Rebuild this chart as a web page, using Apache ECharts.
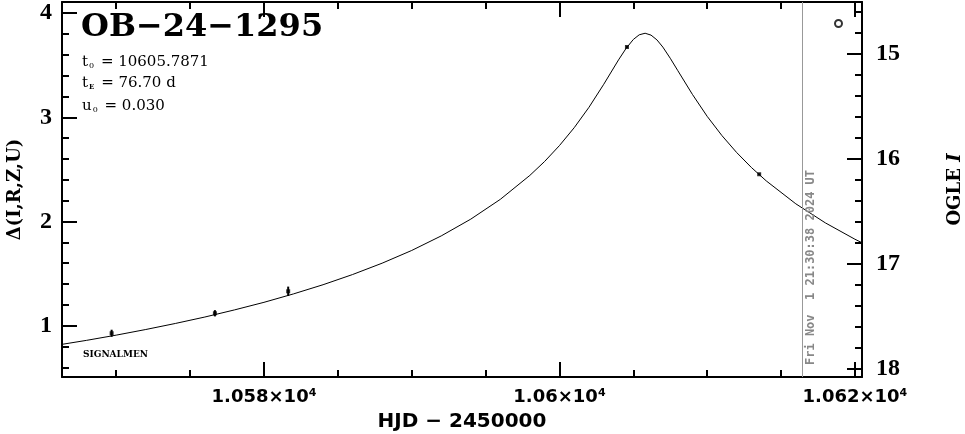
<!DOCTYPE html>
<html><head><meta charset="utf-8">
<script src="https://cdn.jsdelivr.net/npm/echarts@6/dist/echarts.min.js"></script>
<style>html,body{margin:0;padding:0;background:#fff}#c{width:965px;height:434px}</style>
</head><body><div id="c"></div>
<script>
// ---- data ----
const eventName = 'OB−24−1295';
const paramT0 = '10605.7871';
const paramTE = '76.70 d';
const paramU0 = '0.030';
const footerText = 'SIGNALMEN';

const modelT = [10566, 10568, 10570, 10572, 10574, 10576, 10578, 10580, 10582, 10584, 10586, 10588, 10590, 10592, 10594, 10596, 10598, 10599, 10600, 10601, 10602, 10603, 10604, 10604.5, 10605, 10605.4, 10605.8, 10606.2, 10606.6, 10607, 10607.5, 10608, 10609, 10610, 10611, 10612, 10613, 10614, 10616, 10618, 10620, 10621];
const modelD = [0.813, 0.859, 0.909, 0.963, 1.021, 1.083, 1.151, 1.224, 1.305, 1.393, 1.491, 1.600, 1.722, 1.862, 2.023, 2.213, 2.443, 2.577, 2.729, 2.901, 3.097, 3.318, 3.552, 3.660, 3.748, 3.793, 3.808, 3.790, 3.744, 3.675, 3.568, 3.452, 3.221, 3.010, 2.825, 2.662, 2.518, 2.390, 2.170, 1.987, 1.830, 1.760];

const pointT = [10569.69, 10576.68, 10581.64, 10604.57, 10613.52];
const pointD = [0.927, 1.119, 1.330, 3.676, 2.454];
const pointErr = [0.034, 0.030, 0.045, 0.008, 0.008];

const xMajorTicks = [10580, 10600, 10620];
const xTickLabels = ['1.058×10⁴', '1.06×10⁴', '1.062×10⁴'];
const xMinorTicks = [10570, 10575, 10585, 10590, 10595, 10605, 10610, 10615];
const leftMajorTicks = [1, 2, 3, 4];
const leftMinorTicks = [0.6, 0.8, 1.2, 1.4, 1.6, 1.8, 2.2, 2.4, 2.6, 2.8, 3.2, 3.4, 3.6, 3.8];
const rightMajorTicks = [15, 16, 17, 18];
const rightMinorTicks = [14.6, 14.8, 15.2, 15.4, 15.6, 15.8, 16.2, 16.4, 16.6, 16.8, 17.2, 17.4, 17.6, 17.8];

const stampHJD = 10616.43;
const stampText = 'Fri Nov  1 21:30:38 2024 UT';

// ---- chart ----
const X_MIN = 10566.33, X_MAX = 10620.48;
const L_MIN = 0.507, L_MAX = 4.108;
const R_MIN = 14.51, R_MAX = 18.081;

const chart = echarts.init(document.getElementById('c'), null, {renderer: 'canvas'});

function xAxisDef(pos, major, showLabel, showLine) {
  return {
    type: 'value', position: pos, min: X_MIN, max: X_MAX,
    axisLine: {show: showLine, onZero: false, lineStyle: {color: '#000', width: 2}},
    axisTick: {show: true, inside: true, length: major ? 15 : 7, lineStyle: {color: '#000', width: 2},
      customValues: major ? xMajorTicks : xMinorTicks},
    axisLabel: showLabel ? {
      show: true, customValues: xMajorTicks, margin: 11,
      formatter: v => xTickLabels[xMajorTicks.indexOf(v)].replace('⁴', '{sup|4}'),
      color: '#000', fontFamily: 'DejaVu Sans', fontWeight: 'bold', fontSize: 18,
      rich: {sup: {fontFamily: 'DejaVu Sans', fontWeight: 'bold', fontSize: 11, verticalAlign: 'top', lineHeight: 12, padding: [0, 0, 6, 0]}}
    } : {show: false},
    splitLine: {show: false}
  };
}
function yAxisDef(pos, min, max, inverse, ticks, len, labels) {
  return {
    type: 'value', position: pos, min: min, max: max, inverse: inverse,
    axisLine: {show: labels, onZero: false, lineStyle: {color: '#000', width: 2}},
    axisTick: {show: true, inside: true, length: len, lineStyle: {color: '#000', width: 2}, customValues: ticks},
    axisLabel: labels ? {show: true, customValues: ticks, margin: pos === 'left' ? 10 : 14,
      color: '#000', fontFamily: 'Liberation Serif', fontWeight: 'bold', fontSize: 24} : {show: false},
    splitLine: {show: false}
  };
}

const xAxes = [
  Object.assign(xAxisDef('bottom', true, true, true), {
    name: 'HJD − 2450000', nameLocation: 'middle', nameGap: 35,
    nameTextStyle: {color: '#000', fontFamily: 'DejaVu Sans', fontWeight: 'bold', fontSize: 20}
  }),
  xAxisDef('bottom', false, false, false),
  xAxisDef('top', true, false, true),
  xAxisDef('top', false, false, false)
];
const yAxes = [
  Object.assign(yAxisDef('left', L_MIN, L_MAX, false, leftMajorTicks, 15, true), {
    name: 'Δ(I,R,Z,U)', nameLocation: 'middle', nameGap: 38, nameRotate: 90,
    nameTextStyle: {color: '#000', fontFamily: 'DejaVu Serif', fontWeight: 'bold', fontSize: 18}
  }),
  yAxisDef('left', L_MIN, L_MAX, false, leftMinorTicks, 7, false),
  Object.assign(yAxisDef('right', R_MIN, R_MAX, true, rightMajorTicks, 15, true), {
    name: 'OGLE {it|I}', nameLocation: 'middle', nameGap: 84, nameRotate: 90,
    nameTextStyle: {color: '#000', fontFamily: 'DejaVu Serif', fontWeight: 'bold', fontSize: 18,
      rich: {it: {fontFamily: 'DejaVu Serif', fontWeight: 'bold', fontStyle: 'italic', fontSize: 18}}}
  }),
  yAxisDef('right', R_MIN, R_MAX, true, rightMinorTicks, 7, false)
];

const option = {
  animation: false,
  backgroundColor: '#fff',
  grid: {left: 62, right: 103, top: 2, bottom: 57, containLabel: false, outerBoundsMode: 'none'},
  legend: {
    show: true, left: 834, top: 19, padding: 0, itemWidth: 7, itemHeight: 7, selectedMode: false,
    data: [{name: 'OGLE', icon: 'circle'}], formatter: () => '', textStyle: {fontSize: 1}
  },
  xAxis: xAxes,
  yAxis: yAxes,
  graphic: [
    {type: 'text', left: 81, top: 12, silent: true,
      style: {text: eventName, font: 'bold 32px "DejaVu Serif"', fill: '#000'}},
    {type: 'text', left: 82, top: 54, silent: true,
      style: {text: '{b|t}{s|0}{b| = ' + paramT0 + '}', fill: '#000',
        rich: {b: {font: '15px "DejaVu Serif"', fill: '#000', lineHeight: 18},
               s: {font: '8px "DejaVu Serif"', fill: '#000', padding: [8, 2, 0, 1], lineHeight: 18}}}},
    {type: 'text', left: 82, top: 76, silent: true,
      style: {text: '{b|t}{s|E}{b| = ' + paramTE + '}', fill: '#000',
        rich: {b: {font: '15px "DejaVu Serif"', fill: '#000', lineHeight: 18},
               s: {font: 'bold 7px "DejaVu Serif"', fill: '#000', padding: [8, 2, 0, 1], lineHeight: 18}}}},
    {type: 'text', left: 82, top: 98, silent: true,
      style: {text: '{b|u}{s|0}{b| = ' + paramU0 + '}', fill: '#000',
        rich: {b: {font: '15px "DejaVu Serif"', fill: '#000', lineHeight: 18},
               s: {font: '8px "DejaVu Serif"', fill: '#000', padding: [8, 2, 0, 1], lineHeight: 18}}}},
    {type: 'text', left: 83, top: 350, silent: true,
      style: {text: footerText, font: 'bold 9px "DejaVu Serif"', fill: '#000'}}
  ],
  series: [
    {
      name: 'model', type: 'line', xAxisIndex: 0, yAxisIndex: 0,
      data: modelT.map((t, i) => [t, modelD[i]]),
      showSymbol: false, clip: true, silent: true,
      lineStyle: {color: '#000', width: 1},
      markLine: {
        symbol: 'none', silent: true, animation: false,
        lineStyle: {color: '#999', width: 1, type: 'solid'},
        label: {show: true, position: 'insideStartBottom', formatter: stampText, distance: [12, 3],
          color: '#888', fontFamily: 'DejaVu Sans Mono', fontWeight: 'bold', fontSize: 12},
        emphasis: {disabled: true},
        data: [{xAxis: stampHJD}]
      }
    },
    {
      name: 'errors', type: 'custom', xAxisIndex: 0, yAxisIndex: 0, silent: true,
      data: pointT.map((t, i) => [t, pointD[i] - pointErr[i], pointD[i] + pointErr[i]]),
      renderItem: (params, api) => {
        const a = api.coord([api.value(0), api.value(1)]);
        const b = api.coord([api.value(0), api.value(2)]);
        return {type: 'line', shape: {x1: a[0], y1: a[1], x2: b[0], y2: b[1]},
          style: {stroke: '#000', lineWidth: 2}};
      }
    },
    {
      name: 'points', type: 'scatter', xAxisIndex: 0, yAxisIndex: 0, silent: true,
      data: pointT.map((t, i) => [t, pointD[i]]),
      symbol: 'rect', symbolSize: 4, itemStyle: {color: '#000'}
    },
    {
      name: 'OGLE', type: 'scatter', xAxisIndex: 0, yAxisIndex: 0, data: [],
      itemStyle: {color: '#fff', borderColor: '#000', borderWidth: 1.6}
    }
  ]
};
chart.setOption(option);
</script>
</body></html>
